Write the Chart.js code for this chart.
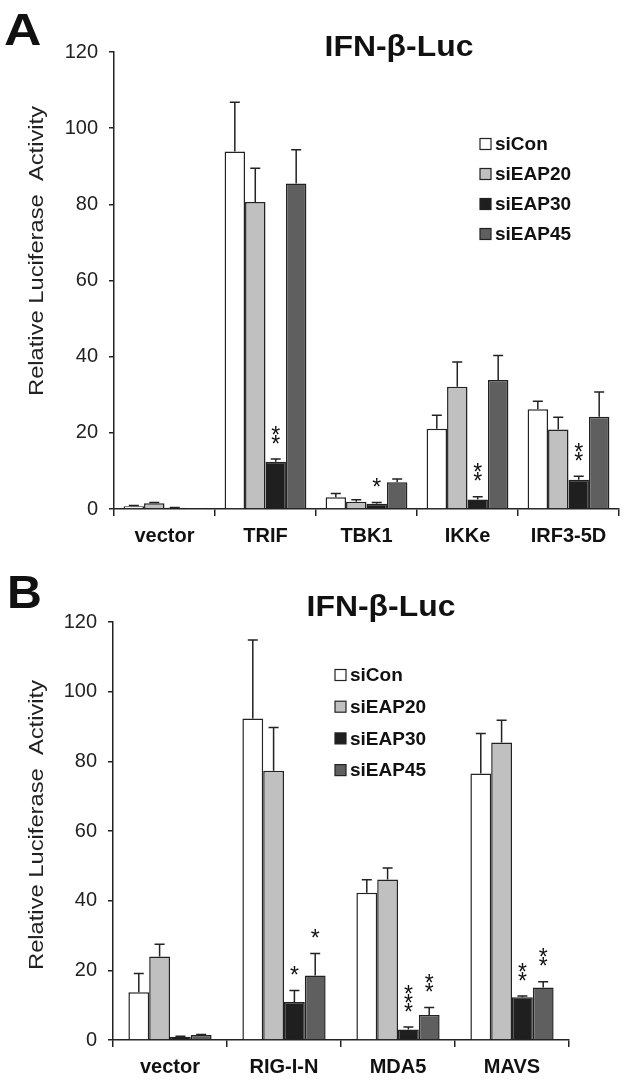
<!DOCTYPE html>
<html>
<head>
<meta charset="utf-8">
<title>IFN-β-Luc</title>
<script src="https://cdn.jsdelivr.net/npm/chart.js@4.4.1/dist/chart.umd.min.js"></script>
<style>
  html, body { margin: 0; padding: 0; background: #fff; }
  canvas { display: block; }
</style>
</head>
<body>
<canvas id="chartA" width="625" height="550"></canvas>
<canvas id="chartB" width="625" height="531"></canvas>
<script>
const FONT = "'Liberation Sans', Arial, sans-serif";

const seriesNames = ['siCon', 'siEAP20', 'siEAP30', 'siEAP45'];
const seriesColors = ['#ffffff', '#c0c0c0', '#1f1f1f', '#5f5f5f'];
const yTicks = [0, 20, 40, 60, 80, 100, 120];
const yTitle = 'Relative Luciferase  Activity';
const chartTitle = 'IFN-β-Luc';

// panel A - TLR3 pathway
const categoriesA = ['vector', 'TRIF', 'TBK1', 'IKKe', 'IRF3-5D'];
const siConA = [0.7, 93.9, 3.1, 21.1, 26.2];
const siEAP20A = [1.5, 80.6, 1.9, 32.1, 20.9];
const siEAP30A = [0.3, 12.4, 1.4, 2.5, 7.7];
const siEAP45A = [0.1, 85.5, 7.0, 33.9, 24.2];
const errConA = [0.2, 12.9, 1.0, 3.5, 2.1];
const err20A = [0.2, 8.9, 0.5, 6.5, 3.2];
const err30A = [0.1, 0.7, 0.3, 0.7, 0.9];
const err45A = [0.0, 8.8, 0.9, 6.4, 6.5];
const stars30A = ['', '**', '*', '**', '**'];

// panel B - RIG-I pathway
const categoriesB = ['vector', 'RIG-I-N', 'MDA5', 'MAVS'];
const siConB = [13.7, 92.3, 42.3, 76.5];
const siEAP20B = [24.0, 77.3, 46.1, 85.4];
const siEAP30B = [0.9, 10.9, 3.0, 12.3];
const siEAP45B = [1.4, 18.5, 7.2, 15.1];
const errConB = [5.4, 22.5, 3.7, 11.5];
const err20B = [3.5, 12.4, 3.3, 6.4];
const err30B = [0.2, 3.3, 0.7, 0.3];
const err45B = [0.2, 6.3, 2.1, 1.6];
const stars30B = ['', '*', '***', '**'];
const stars45B = ['', '*', '**', '**'];

// text stretched along x, like the original figure
function wideText(ctx, text, x, y, sx) {
  ctx.save();
  ctx.translate(x, y);
  ctx.scale(sx, 1);
  ctx.fillText(text, 0, 0);
  ctx.restore();
}

// draws the upper whisker and the significance stars
const errorBarPlugin = {
  id: 'errorBars',
  afterDatasetsDraw(chart) {
    const ctx = chart.ctx;
    const yScale = chart.scales.y;
    ctx.save();
    ctx.strokeStyle = '#222';
    ctx.lineWidth = 1.5;
    chart.data.datasets.forEach((ds, i) => {
      const meta = chart.getDatasetMeta(i);
      meta.data.forEach((bar, j) => {
        const top = yScale.getPixelForValue(ds.data[j] + ds.errors[j]);
        if (ds.errors[j] > 0) {
          ctx.beginPath();
          ctx.moveTo(bar.x, bar.y);
          ctx.lineTo(bar.x, top);
          ctx.moveTo(bar.x - 5, top);
          ctx.lineTo(bar.x + 5, top);
          ctx.stroke();
        }
        const s = ds.stars ? ds.stars[j] : '';
        if (s) {
          ctx.fillStyle = '#111';
          ctx.font = '23px ' + FONT;
          ctx.textAlign = 'center';
          ctx.textBaseline = 'alphabetic';
          const m = ctx.measureText('*');
          const shift = (m.actualBoundingBoxDescent - m.actualBoundingBoxAscent) / 2;
          for (let k = 0; k < s.length; k++) {
            const cy = top - 20 - k * 9;
            ctx.fillText('*', bar.x, cy - shift);
          }
        }
      });
    });
    ctx.restore();
  }
};

// panel letter, titles and the legend inside the plot
const decorPlugin = {
  id: 'decor',
  afterDraw(chart, args, opts) {
    const ctx = chart.ctx;
    ctx.save();
    ctx.fillStyle = '#111';
    ctx.textBaseline = 'alphabetic';
    ctx.textAlign = 'left';
    ctx.font = 'bold ' + opts.letterSize + 'px ' + FONT;
    wideText(ctx, opts.letter, opts.letterX, opts.letterY, opts.letterStretch);
    ctx.textAlign = 'center';
    ctx.font = 'bold 29px ' + FONT;
    wideText(ctx, chartTitle, opts.titleX, opts.titleY, 1.1);

    // rotated y title
    ctx.save();
    ctx.fillStyle = '#222';
    ctx.font = '21px ' + FONT;
    ctx.textBaseline = 'middle';
    const w = ctx.measureText(yTitle).width;
    ctx.translate(opts.yTitleX, opts.yTitleY);
    ctx.rotate(-Math.PI / 2);
    ctx.scale(opts.yTitleLen / w, 1);
    ctx.fillText(yTitle, 0, 0);
    ctx.restore();

    ctx.font = 'bold 19px ' + FONT;
    ctx.textAlign = 'left';
    ctx.textBaseline = 'middle';
    ctx.lineWidth = 1.2;
    ctx.strokeStyle = '#222';
    const box = 11;
    chart.data.datasets.forEach((ds, i) => {
      const y = opts.legendY + i * opts.legendGap;
      ctx.fillStyle = ds.backgroundColor;
      ctx.fillRect(opts.legendX, y - box / 2, box, box);
      ctx.strokeRect(opts.legendX, y - box / 2, box, box);
      ctx.fillStyle = '#111';
      ctx.fillText(ds.label, opts.legendX + box + 4, y + 1);
    });
    ctx.restore();
  }
};

function makeDatasets(values, errors, stars) {
  return seriesNames.map((name, i) => ({
    label: name,
    data: values[i],
    errors: errors[i],
    stars: stars[i],
    backgroundColor: seriesColors[i],
    borderColor: '#222',
    borderWidth: 1.5,
    barPercentage: 1.0
  }));
}

function makeChart(id, labels, datasets, catPct, area, decor) {
  const ctx = document.getElementById(id).getContext('2d');
  datasets.forEach(d => { d.categoryPercentage = catPct; });
  return new Chart(ctx, {
    type: 'bar',
    data: { labels: labels, datasets: datasets },
    plugins: [errorBarPlugin, decorPlugin],
    options: {
      responsive: false,
      animation: false,
      layout: { padding: { left: 0, right: area.right, top: area.top, bottom: 0 } },
      plugins: {
        legend: { display: false },
        tooltip: { enabled: false },
        decor: decor
      },
      scales: {
        x: {
          offset: true,
          grid: { offset: true, drawOnChartArea: false, tickLength: 7, color: '#222', lineWidth: 1.5 },
          border: { display: true, color: '#222', width: 1.5 },
          ticks: { color: '#111', padding: 8, font: { family: FONT, size: 20, weight: 'bold' } },
          afterFit: s => { s.height = area.xHeight; }
        },
        y: {
          min: yTicks[0],
          max: yTicks[yTicks.length - 1],
          ticks: {
            stepSize: yTicks[1] - yTicks[0],
            color: '#222',
            padding: 11,
            font: { family: FONT, size: 20 }
          },
          grid: { drawOnChartArea: false, tickLength: 5, color: '#222', lineWidth: 1.5 },
          border: { display: true, color: '#222', width: 1.5 },
          afterFit: s => { s.width = area.left; }
        }
      }
    }
  });
}

makeChart('chartA', categoriesA,
  makeDatasets([siConA, siEAP20A, siEAP30A, siEAP45A],
               [errConA, err20A, err30A, err45A],
               [null, null, stars30A, null]),
  0.81,
  { left: 114, right: 6, top: 52, xHeight: 41 },
  { letter: 'A', letterSize: 45, letterStretch: 1.15, letterX: 4, letterY: 45,
    titleX: 399, titleY: 56,
    yTitleX: 37, yTitleY: 251, yTitleLen: 290,
    legendX: 480, legendY: 144, legendGap: 30 });

makeChart('chartB', categoriesB,
  makeDatasets([siConB, siEAP20B, siEAP30B, siEAP45B],
               [errConB, err20B, err30B, err45B],
               [null, null, stars30B, stars45B]),
  0.73,
  { left: 113, right: 56, top: 72, xHeight: 41 },
  { letter: 'B', letterSize: 46, letterStretch: 1.05, letterX: 7, letterY: 58,
    titleX: 381, titleY: 66,
    yTitleX: 37, yTitleY: 275, yTitleLen: 290,
    legendX: 335, legendY: 125, legendGap: 31.7 });
</script>
</body>
</html>
